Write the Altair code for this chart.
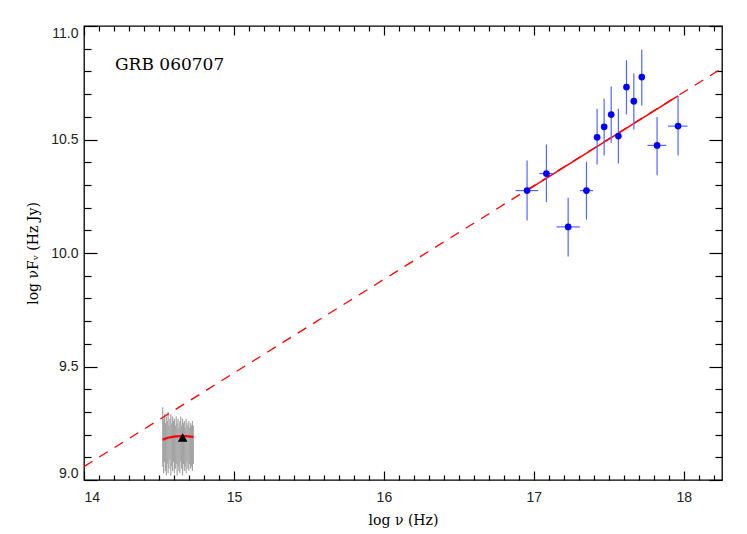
import altair as alt
import pandas as pd

# ---------------- data ----------------
# X-ray points (log nu, log nuFnu) with error ranges
x_pts = [16.955, 17.084, 17.229, 17.351, 17.422, 17.469, 17.516, 17.564, 17.618, 17.667, 17.720, 17.822, 17.962]
y_pts = [10.275, 10.350, 10.115, 10.275, 10.510, 10.556, 10.610, 10.515, 10.731, 10.669, 10.775, 10.474, 10.559]
y_lo = [10.143, 10.224, 9.985, 10.147, 10.390, 10.430, 10.486, 10.394, 10.611, 10.544, 10.650, 10.343, 10.430]
y_hi = [10.408, 10.478, 10.243, 10.402, 10.636, 10.680, 10.733, 10.636, 10.849, 10.791, 10.897, 10.599, 10.689]
x_lo = [16.878, 17.036, 17.151, 17.307, 17.405, 17.452, 17.500, 17.547, 17.601, 17.650, 17.703, 17.758, 17.895]
x_hi = [17.029, 17.133, 17.307, 17.396, 17.439, 17.486, 17.533, 17.581, 17.635, 17.684, 17.737, 17.884, 18.025]

# power-law fit: extrapolated (dashed) and fitted range (solid)
fit_dash_x = [14.0, 18.255]
fit_dash_y = [9.059, 10.814]
fit_solid_x = [16.955, 17.962]
fit_solid_y = [10.276, 10.692]

# optical spectrum bins (grey)
spec_x = [14.525, 14.531, 14.537, 14.543, 14.549, 14.555, 14.561, 14.567, 14.573, 14.579,
          14.585, 14.591, 14.597, 14.603, 14.609, 14.615, 14.621, 14.627, 14.633, 14.639,
          14.645, 14.651, 14.657, 14.663, 14.669, 14.675, 14.681, 14.687, 14.693, 14.699,
          14.705, 14.711, 14.717, 14.723, 14.729]
spec_hi = [9.32, 9.27, 9.29, 9.25, 9.28, 9.26, 9.30, 9.24, 9.27, 9.29, 9.25, 9.28, 9.26, 9.27, 9.24,
           9.28, 9.25, 9.27, 9.23, 9.26, 9.28, 9.24, 9.27, 9.25, 9.26, 9.23, 9.27, 9.25, 9.24, 9.26,
           9.23, 9.25, 9.24, 9.26, 9.24]
spec_lo = [9.06, 9.03, 9.08, 9.04, 9.02, 9.07, 9.03, 9.05, 9.09, 9.02, 9.06, 9.04, 9.08, 9.03, 9.05,
           9.07, 9.02, 9.06, 9.04, 9.03, 9.08, 9.05, 9.02, 9.07, 9.04, 9.06, 9.03, 9.08, 9.05, 9.04,
           9.07, 9.05, 9.06, 9.04, 9.07]

# optical model curve (red) and optical photometric point (triangle)
opt_curve_x = [14.525, 14.56, 14.60, 14.64, 14.68, 14.729]
opt_curve_y = [9.178, 9.186, 9.191, 9.193, 9.193, 9.190]
opt_pt_x = [14.658]
opt_pt_y = [9.187]

label_text = ["GRB 060707"]
label_x = [14.207]
label_y = [10.826]

# ticks
x_major = [14, 15, 16, 17, 18]
x_minor = [round(14 + 0.1 * i, 1) for i in range(43) if i % 10 != 0]
y_major = [9.0, 9.5, 10.0, 10.5, 11.0]
y_minor = [round(9 + 0.1 * i, 1) for i in range(21) if i % 5 != 0]

# ---------------- tables ----------------
pts = pd.DataFrame({"x": x_pts, "y": y_pts, "ylo": y_lo, "yhi": y_hi, "xlo": x_lo, "xhi": x_hi})
dash = pd.DataFrame({"x": fit_dash_x, "y": fit_dash_y})
solid = pd.DataFrame({"x": fit_solid_x, "y": fit_solid_y})
spec = pd.DataFrame({"x": spec_x, "lo": spec_lo, "hi": spec_hi})
curve = pd.DataFrame({"x": opt_curve_x, "y": opt_curve_y})
opt = pd.DataFrame({"x": opt_pt_x, "y": opt_pt_y})
lab = pd.DataFrame({"x": label_x, "y": label_y, "t": label_text})

W, H = 638, 454
xs = alt.Scale(domain=[14.0, 18.255], nice=False, zero=False)
ys = alt.Scale(domain=[9.0, 11.0], nice=False, zero=False)

LABEL_FONT = "Liberation Sans"
TITLE_FONT = "DejaVu Serif"


def tick_axis(orient, values, size, offset):
    return alt.Axis(orient=orient, values=values, tickSize=size, offset=offset, labels=False,
                    domain=False, grid=False, title=None, ticks=True, tickColor="black", tickWidth=1.2)


x_main = alt.Axis(orient="bottom", values=x_major, format="d", ticks=False, tickSize=0, domain=False,
                  grid=False, labelFont=LABEL_FONT, labelFontSize=14, labelColor="#222222",
                  labelPadding=10, title="log ν (Hz)", titleFont=TITLE_FONT, titleFontSize=14,
                  titleFontWeight="normal", titleColor="black", titlePadding=9)
y_main = alt.Axis(orient="left", values=y_major, format=".1f", ticks=False, tickSize=0, domain=False,
                  grid=False, labelFont=LABEL_FONT, labelFontSize=14, labelColor="#222222",
                  labelPadding=6, labelFlush=True, title="log νFᵥ (Hz Jy)", titleFont=TITLE_FONT,
                  titleFontSize=14, titleFontWeight="normal", titleColor="black", titlePadding=10)

grey = alt.Chart(spec).mark_rule(color="#a4a4a4", strokeWidth=1.2).encode(
    x=alt.X("x:Q", scale=xs, axis=x_main),
    y=alt.Y("lo:Q", scale=ys, axis=y_main),
    y2="hi:Q",
)

dashed = alt.Chart(dash).mark_line(color="#ff0000", strokeWidth=1.3, strokeDash=[10, 8]).encode(
    x=alt.X("x:Q", scale=xs, axis=tick_axis("top", x_major, 9, -H)),
    y=alt.Y("y:Q", scale=ys, axis=tick_axis("right", y_major, 13, -W)),
)

solid_l = alt.Chart(solid).mark_line(color="#ff0000", strokeWidth=1.5).encode(
    x=alt.X("x:Q", scale=xs, axis=tick_axis("top", x_minor, 5, -H)),
    y=alt.Y("y:Q", scale=ys, axis=tick_axis("right", y_minor, 7, -W)),
)

curve_l = alt.Chart(curve).mark_line(color="#ff0000", strokeWidth=2.2).encode(
    x=alt.X("x:Q", scale=xs, axis=tick_axis("bottom", x_major, 9, -H)),
    y=alt.Y("y:Q", scale=ys, axis=tick_axis("left", y_major, 13, -W)),
)

tri = alt.Chart(opt).mark_point(shape="triangle-up", filled=True, color="black", size=95, opacity=1).encode(
    x=alt.X("x:Q", scale=xs, axis=tick_axis("bottom", x_minor, 5, -H)),
    y=alt.Y("y:Q", scale=ys, axis=tick_axis("left", y_minor, 7, -W)),
)

xerr = alt.Chart(pts).mark_rule(color="#5566ff", strokeWidth=1.2).encode(
    x=alt.X("xlo:Q", scale=xs, axis=None),
    x2="xhi:Q",
    y=alt.Y("y:Q", scale=ys, axis=None),
)

yerr = alt.Chart(pts).mark_rule(color="#5566ff", strokeWidth=1.2).encode(
    x=alt.X("x:Q", scale=xs, axis=None),
    y=alt.Y("ylo:Q", scale=ys, axis=None),
    y2="yhi:Q",
)

points = alt.Chart(pts).mark_circle(color="#0000ff", size=45, opacity=1).encode(
    x=alt.X("x:Q", scale=xs, axis=None),
    y=alt.Y("y:Q", scale=ys, axis=None),
)

label = alt.Chart(lab).mark_text(font=TITLE_FONT, fontSize=17, align="left", baseline="middle",
                                 color="black").encode(
    x=alt.X("x:Q", scale=xs, axis=None),
    y=alt.Y("y:Q", scale=ys, axis=None),
    text="t:N",
)

chart = alt.layer(grey, dashed, solid_l, curve_l, tri, xerr, yerr, points, label).resolve_axis(
    x="independent", y="independent"
).properties(
    width=W, height=H,
    autosize=alt.AutoSizeParams(type="none"),
    padding={"left": 76, "top": 18, "right": 17, "bottom": 50},
    background="white",
).configure_view(stroke="black", strokeWidth=1.3)

chart.save("out.html", embed_options={"renderer": "svg", "actions": False})
